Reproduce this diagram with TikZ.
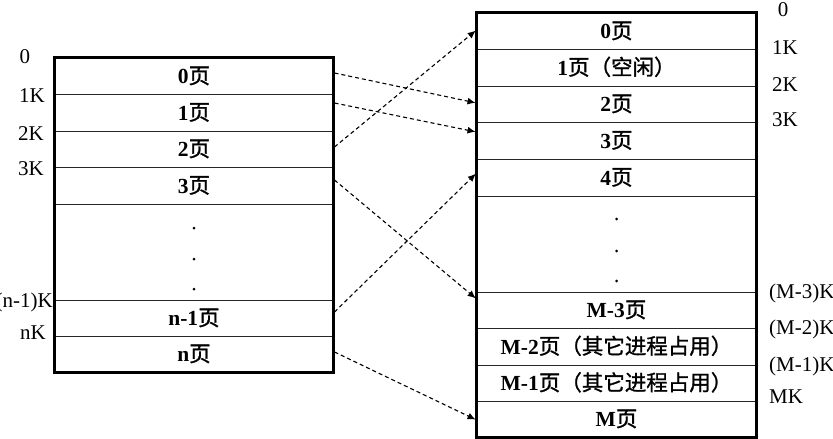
\documentclass[tikz,border=0pt]{standalone}
\usepackage{fontspec}
\setmainfont{Liberation Serif}
\newfontfamily\cjk[BoldFont={*},BoldFeatures={FakeBold=1.2}]{Noto Sans CJK SC}
\usetikzlibrary{arrows.meta,calc}
\begin{document}
\begin{tikzpicture}[x=1pt,y=-1pt,
  cell/.style={draw=black!85, line width=1pt, inner sep=0pt,
    text height=15pt, text depth=0pt,
    font=\fontsize{21.5}{22}\selectfont\bfseries},
  lcell/.style={cell, minimum width=278pt},
  rcell/.style={cell, minimum width=279pt},
  frame/.style={draw=black, line width=2.6pt},
  lab/.style={inner sep=0pt, text height=13.5pt, text depth=0pt,
    font=\fontsize{21}{22}\selectfont},
  conn/.style={draw=black, line width=1.1pt, dash pattern=on 4pt off 3pt,
    -{Latex[length=8pt,width=7pt]}, shorten >=1pt},
  dot/.style={fill=black}]
\useasboundingbox (0,0) rectangle (833,439);

% left box cells
\node[lcell, minimum height=36pt] (L0) at (194,76) {0{\cjk 页}};
\node[lcell, minimum height=37pt] (L1) at (194,112.5) {1{\cjk 页}};
\node[lcell, minimum height=36pt] (L2) at (194,149) {2{\cjk 页}};
\node[lcell, minimum height=37pt] (L3) at (194,185.5) {3{\cjk 页}};
\node[lcell, minimum height=96pt] (Ld) at (194,252) {};
\node[lcell, minimum height=36pt] (Ln1) at (194,318) {n-1{\cjk 页}};
\node[lcell, minimum height=36pt] (Ln) at (194,354) {n{\cjk 页}};
\draw[frame] (L0.north west) rectangle (Ln.south east);
\foreach \yy in {228,259,289} \fill[dot] (194,\yy) circle (1.5pt);

% right box cells
\node[rcell, minimum height=36pt] (R0) at (616.5,31) {0{\cjk 页}};
\node[rcell, minimum height=37pt] (R1) at (616.5,67.5) {1{\cjk 页（空闲）}};
\node[rcell, minimum height=36pt] (R2) at (616.5,104) {2{\cjk 页}};
\node[rcell, minimum height=37pt] (R3) at (616.5,140.5) {3{\cjk 页}};
\node[rcell, minimum height=37pt] (R4) at (616.5,177.5) {4{\cjk 页}};
\node[rcell, minimum height=96pt] (Rd) at (616.5,244) {};
\node[rcell, minimum height=36pt] (RM3) at (616.5,310) {M-3{\cjk 页}};
\node[rcell, minimum height=37pt] (RM2) at (616.5,346.5) {M-2{\cjk 页（其它进程占用）}};
\node[rcell, minimum height=36pt] (RM1) at (616.5,383) {M-1{\cjk 页（其它进程占用）}};
\node[rcell, minimum height=36pt] (RM) at (616.5,419) {M{\cjk 页}};
\draw[frame] (R0.north west) rectangle (RM.south east);
\foreach \yy in {219,251,281} \fill[dot] (616.5,\yy) circle (1.5pt);

% left address labels
\node[lab] (la0) at (25,57) {0};
\node[lab, anchor=east] (la1) at (45,96) {1K};
\node[lab, anchor=east] (la2) at (44,134) {2K};
\node[lab, anchor=east] (la3) at (44,169) {3K};
\node[lab, anchor=east] (lan1) at (53,301) {(n-1)K};
\node[lab, anchor=east] (lan) at (46,333) {nK};

% right address labels
\node[lab] (ra0) at (783,10) {0};
\node[lab, anchor=west] (ra1) at (772,48) {1K};
\node[lab, anchor=west] (ra2) at (772,85) {2K};
\node[lab, anchor=west] (ra3) at (772,120) {3K};
\node[lab, anchor=west] (ram3) at (769,292) {(M-3)K};
\node[lab, anchor=west] (ram2) at (769,328) {(M-2)K};
\node[lab, anchor=west] (ram1) at (769,365) {(M-1)K};
\node[lab, anchor=west] (ram) at (769,397) {MK};

% mapping arrows
\draw[conn] ($(L0.east)+(1,-3)$) -- ($(R2.west)+(0,-1)$);
\draw[conn] ($(L1.east)+(1,-9.5)$) -- ($(R3.west)+(0,-8.5)$);
\draw[conn] ($(L2.east)+(1,-2)$) -- ($(R0.west)+(0,-1)$);
\draw[conn] ($(L3.east)+(1,-5.5)$) -- ($(RM3.west)+(0,-11)$);
\draw[conn] ($(Ln1.east)+(1,-6)$) -- ($(R4.west)+(0,-4.5)$);
\draw[conn] ($(Ln.east)+(1,-2)$) -- ($(RM.west)+(0,1)$);
\end{tikzpicture}
\end{document}
